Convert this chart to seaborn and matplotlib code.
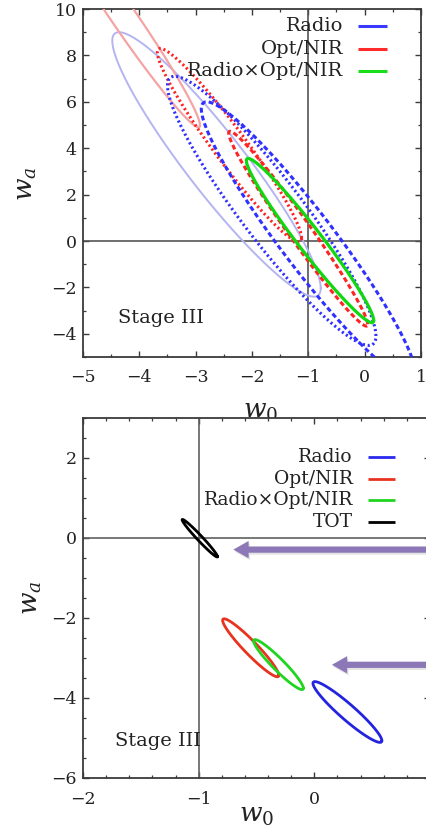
import numpy as np
import pandas as pd
import matplotlib
matplotlib.use("Agg")
import matplotlib.pyplot as plt
import matplotlib.patheffects as pe
from matplotlib.ticker import MultipleLocator, FixedLocator, FixedFormatter
import seaborn as sns

# ---------------- data ----------------
# Top panel (Stage III): contour ellipses, parametrised by centre, extent and correlation
top_names = ["Radio (light)", "Opt/NIR (light)", "Opt/NIR dotted", "Radio dotted",
             "Radio dashed", "Opt/NIR dashed", "Radio×Opt/NIR"]
top_cx = [-2.63, -4.26, -2.40, -1.65, -1.00, -1.18, -0.97]
top_cy = [3.30, 9.60, 4.13, 1.30, 0.00, 0.53, 0.02]
top_sx = [1.85, 1.337, 1.28, 1.85, 1.90, 1.234, 1.13]
top_sy = [5.70, 4.70, 4.17, 5.80, 6.00, 4.20, 3.54]
top_rho = [-0.935, -0.98, -0.96, -0.93, -0.949, -0.981, -0.972]

# Bottom panel (Stage III): contour ellipses
bot_names = ["TOT", "Opt/NIR", "Radio×Opt/NIR", "Radio"]
bot_cx = [-0.99, -0.55, -0.31, 0.286]
bot_cy = [-0.005, -2.745, -3.165, -4.35]
bot_sx = [0.153, 0.243, 0.215, 0.298]
bot_sy = [0.47, 0.725, 0.625, 0.76]
bot_rho = [-0.98, -0.947, -0.945, -0.943]

# Arrow tips in the bottom panel
arrow_x = [-0.70, 0.152]
arrow_y = [-0.29, -3.17]

top_legend = ["Radio", "Opt/NIR", "Radio×Opt/NIR"]
bot_legend = ["Radio", "Opt/NIR", "Radio×Opt/NIR", "TOT"]
bot_xticks = [-2, -1, 0, 1]
bot_xticklabels = ["\u22122", "\u22121", "0", ""]
stage_label = "Stage III"

# ---------------- styles ----------------
top_styles = [
    dict(color="#b4b4f2", lw=1.4, ls="-"),
    dict(color="#f5a3a3", lw=1.6, ls="-"),
    dict(color="#ff2424", lw=2.2, ls=(0, (0.7, 0.9))),
    dict(color="#3030ff", lw=2.2, ls=(0, (0.7, 0.9))),
    dict(color="#3030ff", lw=2.2, ls=(0, (1.6, 1.0))),
    dict(color="#ff2424", lw=2.2, ls=(0, (1.6, 1.0))),
    dict(color="#10d810", lw=2.3, ls="-"),
]
top_leg_colors = ["#3a3aff", "#ff2a2a", "#18dd18"]
bot_styles = ["#000000", "#e8331f", "#1fd51f", "#2323e0"]
bot_leg_colors = ["#2a2aee", "#e8331f", "#1fd51f", "#000000"]
purple = "#8c78b6"

sns.set_theme(style="white")
plt.rcParams["font.family"] = ["DejaVu Serif", "DejaVu Sans"]
plt.rcParams["mathtext.fontset"] = "dejavuserif"

W, H = 427, 835
fig = plt.figure(figsize=(W / 100, H / 100), dpi=100)
fig.patch.set_facecolor("white")


def ellipse_df(cx, cy, sx, sy, rho, n=600):
    t = np.linspace(0, 2 * np.pi, n)
    s = np.sqrt(1 - rho ** 2)
    return pd.DataFrame({"x": cx + sx * np.cos(t),
                         "y": cy + sy * (rho * np.cos(t) + s * np.sin(t))})


def style_axes(ax, xmaj, xmin, ymaj, ymin):
    ax.set_facecolor("white")
    for sp in ax.spines.values():
        sp.set_color("#3a3a3a")
        sp.set_linewidth(1.3)
        sp.set_visible(True)
    ax.xaxis.set_major_locator(MultipleLocator(xmaj))
    ax.xaxis.set_minor_locator(MultipleLocator(xmin))
    ax.yaxis.set_major_locator(MultipleLocator(ymaj))
    ax.yaxis.set_minor_locator(MultipleLocator(ymin))
    ax.tick_params(which="both", direction="in", top=True, right=True,
                   bottom=True, left=True, color="#3a3a3a")
    ax.tick_params(which="major", length=4.5, width=1.0, labelsize=12.5,
                   labelcolor="#222222")
    ax.tick_params(which="minor", length=2.4, width=0.9)
    ax.tick_params(axis="x", which="major", pad=9)
    ax.tick_params(axis="y", which="major", pad=4.5)
    ax.grid(False)


# ---------------- top panel ----------------
ax1 = fig.add_axes([83 / W, 1 - 357 / H, 338 / W, 348 / H])
for i in range(len(top_names)):
    d = ellipse_df(top_cx[i], top_cy[i], top_sx[i], top_sy[i], top_rho[i])
    st = top_styles[i]
    sns.lineplot(data=d, x="x", y="y", sort=False, estimator=None, ax=ax1,
                 color=st["color"], linewidth=st["lw"], linestyle=st["ls"],
                 legend=False, zorder=3 + i)
ax1.axvline(-1, color="#555555", lw=1.2, zorder=2)
ax1.axhline(0, color="#555555", lw=1.2, zorder=2)
ax1.set_xlim(-5, 1)
ax1.set_ylim(-5, 10)
style_axes(ax1, 1, 0.5, 2, 1)
ax1.set_xlabel(r"$w_0$", fontsize=19, color="#222222")
ax1.xaxis.set_label_coords((261 - 83) / 338, (357 - 418) / 348)
ax1.xaxis.label.set_va("baseline")
ax1.set_ylabel(r"$w_a$", fontsize=19, color="#222222")
ax1.yaxis.set_label_coords((27 - 83) / 338, (357 - 184) / 348)
ax1.yaxis.label.set_va("center")
ax1.text(-4.38, -3.32, stage_label, fontsize=14, ha="left", va="center",
         color="#222222", zorder=20)

# legend (text right-aligned, line to the right)
for j, lab in enumerate(top_legend):
    py = [26, 49, 71][j]
    ax1.text((343 - 83) / 338, (357 - py) / 348, lab, transform=ax1.transAxes,
             ha="right", va="center", fontsize=14, color="#222222", zorder=20)
    ax1.plot([(358 - 83) / 338, (387 - 83) / 338], [(357 - py) / 348] * 2,
             transform=ax1.transAxes, color=top_leg_colors[j], lw=2.2,
             solid_capstyle="butt", zorder=20)

# ---------------- bottom panel ----------------
ax2 = fig.add_axes([83 / W, 1 - 778 / H, 347 / W, 360 / H])
for i in range(len(bot_names)):
    d = ellipse_df(bot_cx[i], bot_cy[i], bot_sx[i], bot_sy[i], bot_rho[i])
    sns.lineplot(data=d, x="x", y="y", sort=False, estimator=None, ax=ax2,
                 color=bot_styles[i], linewidth=2.0, legend=False, zorder=4 + i)
ax2.axvline(-1, color="#606060", lw=1.2, zorder=2)
ax2.axhline(0, color="#606060", lw=1.2, zorder=2)
ax2.set_xlim(-2, 1)
ax2.set_ylim(-6, 3)
style_axes(ax2, 1, 0.2, 2, 0.5)
ax2.xaxis.set_major_locator(FixedLocator(bot_xticks))
ax2.xaxis.set_major_formatter(FixedFormatter(bot_xticklabels))
ax2.set_xlabel(r"$w_0$", fontsize=19, color="#222222")
ax2.xaxis.set_label_coords((257 - 83) / 347, (778 - 822) / 360)
ax2.xaxis.label.set_va("baseline")
ax2.set_ylabel(r"$w_a$", fontsize=19, color="#222222")
ax2.yaxis.set_label_coords((31 - 83) / 347, 0.5)
ax2.yaxis.label.set_va("center")
ax2.text(-1.72, -5.07, stage_label, fontsize=14, ha="left", va="center",
         color="#222222", zorder=20)

for j, lab in enumerate(bot_legend):
    py = [457, 479, 500, 522][j]
    ax2.text((353 - 83) / 347, (778 - py) / 360, lab, transform=ax2.transAxes,
             ha="right", va="center", fontsize=13.5, color="#222222", zorder=20)
    ax2.plot([(368 - 83) / 347, (395 - 83) / 347], [(778 - py) / 360] * 2,
             transform=ax2.transAxes, color=bot_leg_colors[j], lw=2.0,
             solid_capstyle="butt", zorder=20)

# purple arrows with a soft shadow
for xa, ya in zip(arrow_x, arrow_y):
    ax2.annotate("", xy=(xa, ya), xytext=(1.25, ya), xycoords="data",
                 textcoords="data", annotation_clip=False, zorder=15,
                 arrowprops=dict(arrowstyle="simple,head_length=1.1,head_width=1.25,tail_width=0.45",
                                 mutation_scale=10, shrinkA=0, shrinkB=0,
                                 facecolor=purple, edgecolor="none",
                                 path_effects=[pe.SimplePatchShadow(offset=(1.0, -1.5),
                                                                    shadow_rgbFace="#888888",
                                                                    alpha=0.22),
                                               pe.Normal()]))

fig.savefig("out.png", dpi=100, facecolor="white")
